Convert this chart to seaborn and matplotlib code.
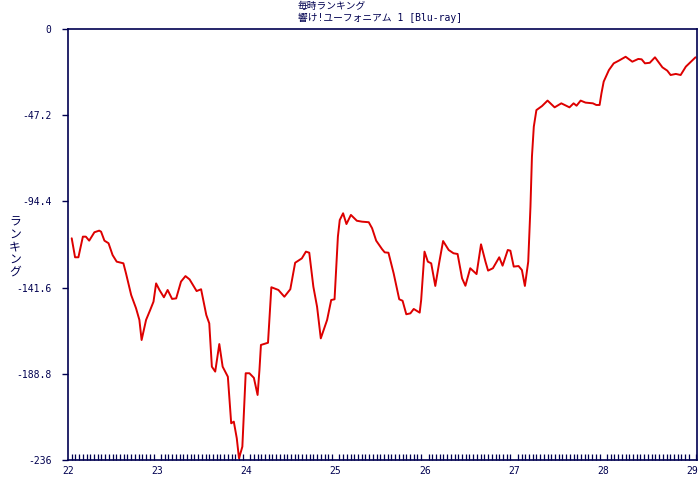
import numpy as np
import pandas as pd
import matplotlib
matplotlib.use("Agg")
import matplotlib.pyplot as plt
import seaborn as sns
from matplotlib.ticker import MultipleLocator

# hours since day 22 00:00, ranking value (as plotted, negative)
hours = [1.0, 1.9, 2.8, 4.0, 4.8, 5.7, 7.1, 8.4, 8.9, 9.8, 10.9, 12.0, 13.1, 14.9,
         15.6, 17.0, 18.3, 19.2, 19.8, 21.0, 22.1, 23.0, 23.7, 24.6, 25.8, 26.8,
         28.0, 29.1, 30.4, 31.6, 32.7, 34.6, 35.8, 37.2, 38.0, 38.7, 39.6, 40.7,
         41.6, 43.0, 43.9, 44.6, 45.4, 46.0, 46.9, 47.8, 48.8, 50.0, 51.0, 51.5,
         51.9, 53.8, 54.7, 56.6, 58.2, 59.8, 61.1, 62.9, 64.0, 64.9, 66.0, 67.0,
         68.0, 69.7, 70.8, 71.7, 72.6, 73.1, 74.0, 74.9, 76.1, 77.7, 79.1, 80.9,
         81.8, 82.9, 84.5, 85.2, 86.2, 87.6, 89.1, 90.0, 91.0, 92.1, 93.0, 94.6,
         95.0, 95.9, 96.8, 97.7, 98.8, 99.9, 100.9, 102.4, 103.7, 104.8, 106.0,
         106.9, 108.2, 109.9, 111.1, 112.3, 113.0, 114.3, 116.0, 116.9, 118.3,
         119.0, 119.9, 121.2, 122.1, 122.9, 123.8, 124.4, 124.8, 125.3, 126.0,
         127.5, 129.0, 130.9, 132.7, 134.9, 136.0, 136.8, 137.9, 139.2, 141.2,
         142.1, 143.0, 143.5, 144.1, 145.5, 146.8, 148.2, 150.0, 151.8, 153.4,
         154.3, 155.2, 156.5, 157.9, 159.9, 161.2, 162.1, 163.5, 164.8, 166.2,
         168.8]
ranking = [-114.6, -125.0, -125.0, -113.7, -113.7, -115.9, -111.3, -110.4, -111.0,
           -115.9, -117.3, -123.8, -127.4, -128.3, -133.8, -145.7, -152.9, -159.3,
           -170.3, -159.3, -153.9, -149.3, -139.3, -142.9, -146.9, -142.9, -147.8,
           -147.5, -138.3, -135.3, -137.1, -143.5, -142.5, -156.6, -161.2, -184.9,
           -187.6, -172.5, -184.9, -190.4, -215.9, -215.0, -224.1, -235.1, -228.7,
           -188.5, -188.5, -191.0, -200.4, -186.7, -173.0, -171.8, -141.4, -142.9,
           -146.6, -142.5, -128.0, -125.6, -121.9, -122.5, -141.1, -152.1, -169.4,
           -159.3, -148.4, -148.0, -113.7, -104.6, -100.9, -106.8, -101.8, -105.0,
           -105.5, -105.8, -109.1, -115.9, -120.6, -122.3, -122.5, -133.8, -148.0,
           -148.8, -156.2, -155.7, -153.3, -155.3, -148.4, -121.9, -127.4, -128.3,
           -140.7, -127.4, -116.1, -121.0, -122.8, -123.2, -136.5, -140.6, -131.0,
           -134.2, -117.9, -127.4, -132.3, -131.0, -125.0, -129.6, -121.0, -121.4,
           -130.1, -129.8, -132.0, -140.7, -127.4, -97.3, -69.9, -53.5, -44.4,
           -42.2, -39.2, -42.9, -40.7, -42.9, -40.7, -42.0, -39.2, -40.3, -40.7,
           -41.6, -41.6, -35.2, -28.8, -22.5, -18.8, -17.3, -15.2, -17.9, -16.4,
           -16.6, -18.8, -18.5, -15.5, -21.0, -22.8, -25.2, -24.6, -25.2, -20.6,
           -15.5]

y_ticks = [0, -47.2, -94.4, -141.6, -188.8, -236]
y_tick_labels = ["0", "-47.2", "-94.4", "-141.6", "-188.8", "-236"]
x_ticks = [22, 23, 24, 25, 26, 27, 28, 29]

title = "毎時ランキング\n響け!ユーフォニアム 1 [Blu-ray]"
ylabel = "ランキング"

df = pd.DataFrame({"day": 22 + np.array(hours) / 24, "rank": ranking})

sns.set_style("white")
plt.rcParams['font.family'] = ['DejaVu Sans Mono', 'Noto Sans CJK JP']
navy = "#000050"

fig = plt.figure(figsize=(7, 4.8), dpi=100)
ax = fig.add_axes([68 / 700, 20 / 480, 629 / 700, 431 / 480])

sns.lineplot(data=df, x="day", y="rank", ax=ax, color="#dd0000", linewidth=1.4)

ax.set_xlim(22, 29.05)
ax.set_ylim(-236, 0)
ax.set_yticks(y_ticks)
ax.set_yticklabels(y_tick_labels)
ax.set_xticks(x_ticks)
ax.set_xticklabels([str(x) for x in x_ticks])
ax.xaxis.set_minor_locator(MultipleLocator(1 / 24))
ax.tick_params(axis="x", which="major", length=0, pad=4, labelsize=7, colors=navy)
ax.tick_params(axis="x", which="minor", direction="in", length=4, width=0.9,
               color=navy, bottom=True)
ax.tick_params(axis="y", which="major", direction="out", length=4, width=1,
               labelsize=7, colors=navy, left=True, pad=8)
ax.set_xlabel("")
ax.set_ylabel("")
for s in ax.spines.values():
    s.set_color(navy)
    s.set_linewidth(1.2)

fig.text(298 / 700, 1 - 1 / 480, title, ha="left", va="top", fontsize=7,
         color=navy, linespacing=1.15)
fig.text(15 / 700, 1 - 247 / 480, "\n".join(ylabel), ha="center", va="center",
         fontsize=8.5, color=navy, linespacing=0.95)

fig.savefig("out.png", dpi=100)
